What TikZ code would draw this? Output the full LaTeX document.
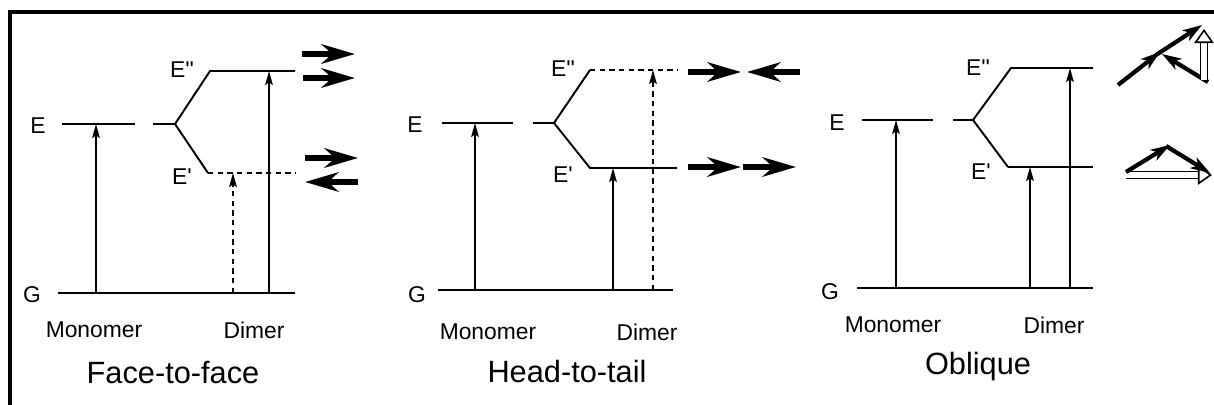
\documentclass[tikz,border=0pt]{standalone}
\usepackage{fontspec}
\setmainfont{Liberation Sans}
\usetikzlibrary{arrows.meta}
\tikzset{
  elevel/.style={line width=1.1pt},
  trans/.style={line width=0.8pt, -{Stealth[length=8pt,width=4.4pt,inset=1.5pt]}},
  dipole/.style={line width=3.2pt, -{Stealth[length=19pt,width=11pt,inset=6pt]}},
  odipole/.style={line width=2.4pt, -{Stealth[length=11pt,width=7pt,inset=3pt]}},
  hollow/.style={double, double distance=3pt, line width=0.9pt, -{Triangle[open,fill=white,length=8pt,width=11pt,line width=0.9pt]}},
  lbl/.style={font=\fontsize{13}{15}\selectfont, inner sep=0pt},
  ttl/.style={font=\fontsize{17.5}{20}\selectfont, inner sep=0pt},
  dsh/.style={dash pattern=on 3pt off 2.5pt}
}
\newcommand{\Epp}{E\textquotesingle\textquotesingle}
\newcommand{\Ep}{E\textquotesingle}
\begin{document}
\begin{tikzpicture}[x=0.02cm, y=-0.02cm]
\useasboundingbox (0,0) rectangle (1214,405);
\draw[line width=2.3pt] (10,405) -- (10,12) -- (1214,12);

% face-to-face
\node[lbl] (E1) at (38,126) {E};
\node[lbl] (G1) at (32,295) {G};
\node[lbl] (Epp1) at (182,70) {\Epp};
\node[lbl] (Ep1) at (182,177) {\Ep};
\draw[elevel] (62,124) -- (135,124);
\draw[elevel] (153,124) -- (175,124) coordinate (s1) -- (210,71) -- (295,71);
\draw[elevel] (s1) -- (208,173) coordinate (p1);
\draw[elevel, dsh] (p1) -- (295,173);
\draw[elevel] (58,293) -- (295,293);
\draw[trans] (96,293) -- (96,124);
\draw[trans, dsh] (233,293) -- (233,173);
\draw[trans] (269,293) -- (269,71);
\draw[dipole] (302,54) -- (355,54);
\draw[dipole] (303,78) -- (355,78);
\draw[dipole] (305,158) -- (358,158);
\draw[dipole] (358,182) -- (305,182);
\node[lbl] (mono1) at (94,330) {Monomer};
\node[lbl] (dim1) at (254,330) {Dimer};
\node[ttl] (t1) at (173,373) {Face-to-face};

% head-to-tail
\node[lbl] (E2) at (415,125) {E};
\node[lbl] (G2) at (417,295) {G};
\node[lbl] (Epp2) at (563,69) {\Epp};
\node[lbl] (Ep2) at (563,175) {\Ep};
\draw[elevel] (442,123) -- (513,123);
\draw[elevel] (533,123) -- (554,123) coordinate (s2) -- (590,70) coordinate (p2);
\draw[elevel, dsh] (p2) -- (677,70);
\draw[elevel] (s2) -- (590,168) -- (677,168);
\draw[elevel] (438,290) -- (673,290);
\draw[trans] (475,290) -- (475,123);
\draw[trans] (613,290) -- (613,168);
\draw[trans, dsh] (653,290) -- (653,70);
\draw[dipole] (688,72) -- (741,72);
\draw[dipole] (800,72) -- (747,72);
\draw[dipole] (688,167) -- (741,167);
\draw[dipole] (743,167) -- (796,167);
\node[lbl] (mono2) at (488,332) {Monomer};
\node[lbl] (dim2) at (647,332) {Dimer};
\node[ttl] (t2) at (567,372) {Head-to-tail};

% oblique
\node[lbl] (E3) at (837,123) {E};
\node[lbl] (G3) at (830,292) {G};
\node[lbl] (Epp3) at (978,68) {\Epp};
\node[lbl] (Ep3) at (981,172) {\Ep};
\draw[elevel, line width=1.5pt] (862,120) -- (933,120);
\draw[elevel] (953,120) -- (973,120) coordinate (s3) -- (1011,68) -- (1093,68);
\draw[elevel] (s3) -- (1008,167) coordinate (p3);
\draw[elevel, line width=1.5pt] (p3) -- (1093,167);
\draw[elevel] (857,288) -- (1093,288);
\draw[trans] (896,288) -- (896,120);
\draw[trans] (1030,288) -- (1030,167);
\draw[trans] (1070,288) -- (1070,68);
\coordinate (v3) at (1160,52);
\coordinate (w3) at (1170,145);
\draw[odipole] (1118,85) -- (v3);
\draw[odipole] (1156,55) -- (1202,25);
\draw[odipole] (1208,82) -- (1162,54);
\draw[hollow] (1204,80) -- (1204,29);
\draw[hollow] (1126,175) -- (1212,175);
\draw[odipole] (1126,172) -- (w3);
\draw[odipole] (1166,146) -- (1210,173);
\node[lbl] (mono3) at (893,325) {Monomer};
\node[lbl] (dim3) at (1054,325) {Dimer};
\node[ttl] (t3) at (978,367) {Oblique};
\end{tikzpicture}
\end{document}
